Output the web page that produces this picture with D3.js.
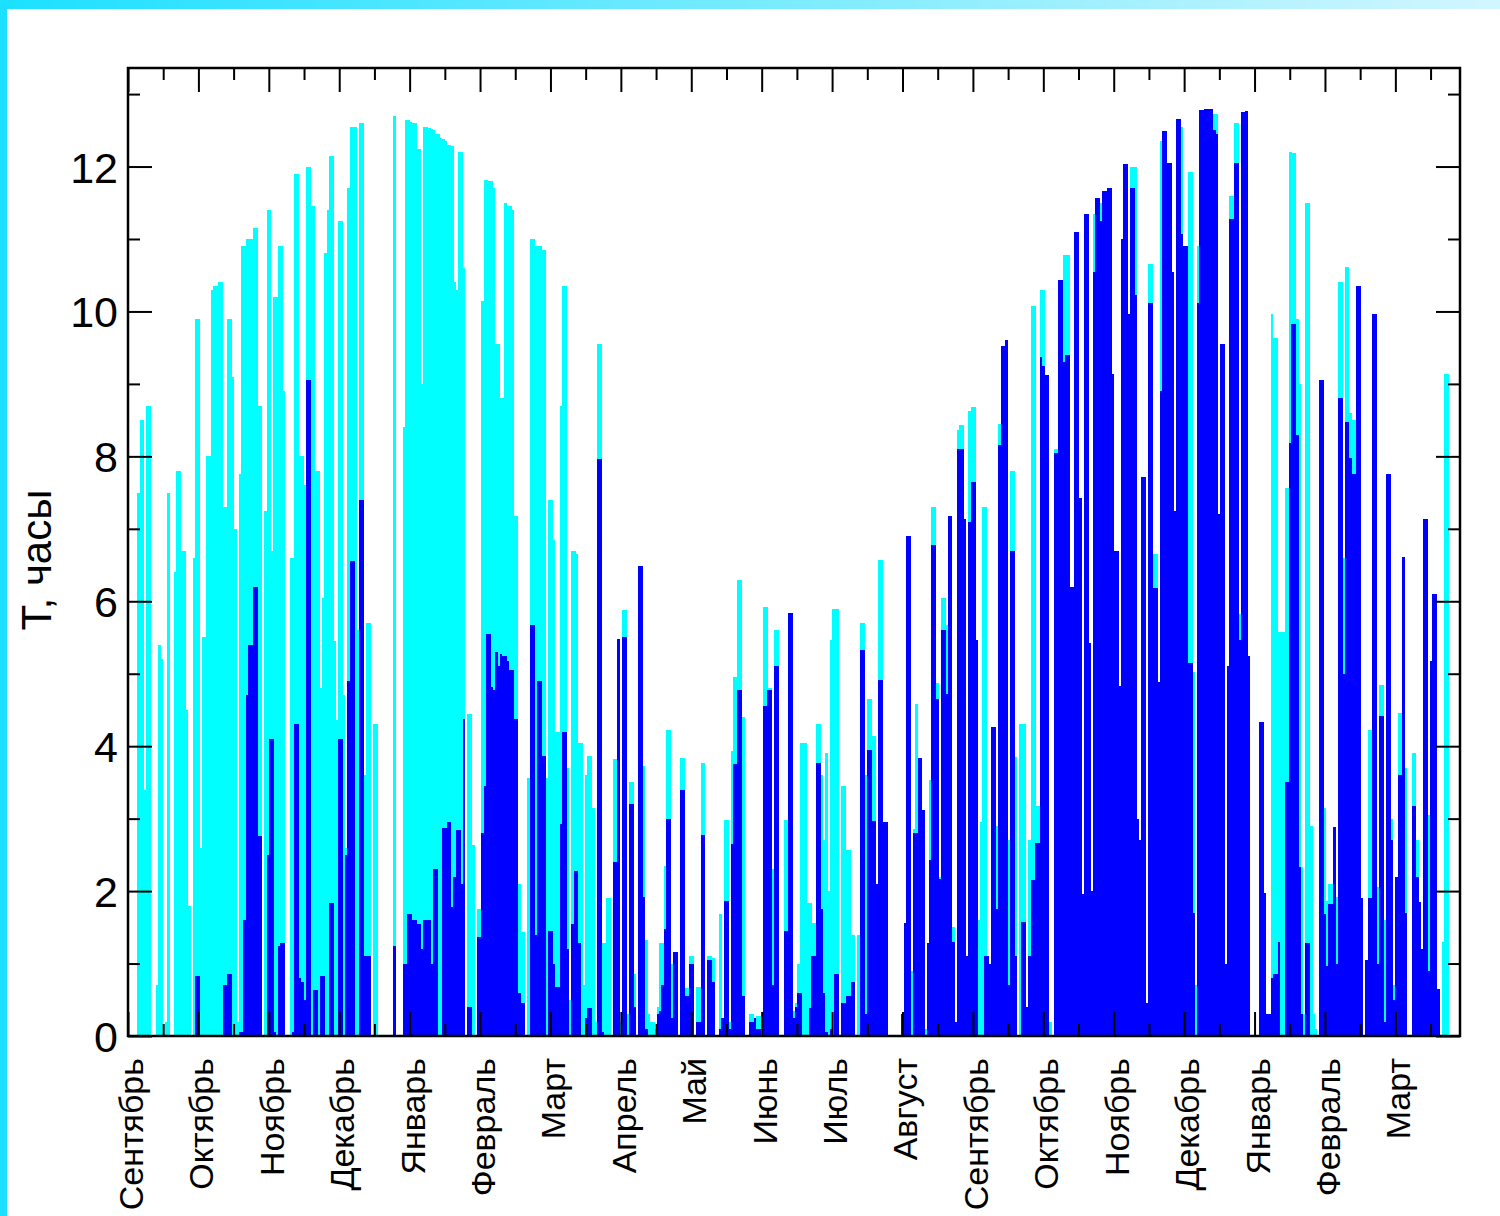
<!DOCTYPE html>
<html>
<head>
<meta charset="utf-8">
<script src="https://cdn.jsdelivr.net/npm/d3@7"></script>
<style>
  body { margin: 0; background: #fff; }
  text { font-family: "Liberation Sans", Arial, Helvetica, sans-serif; fill: #000; }
</style>
</head>
<body>
<div id="chart"></div>
<script>
// month labels, one per major tick (tick every 30.5 days)
const months = ["Сентябрь", "Октябрь", "Ноябрь", "Декабрь", "Январь", "Февраль", "Март",
  "Апрель", "Май", "Июнь", "Июль", "Август", "Сентябрь", "Октябрь", "Ноябрь", "Декабрь",
  "Январь", "Февраль", "Март"];

const yTicks = [0, 2, 4, 6, 8, 10, 12];

// daily duration, hours (cyan bars, drawn first)
const possibleHours = [
  0, 0, 0, 0, 7.5, 8.5, 8.5, 3.4, 8.7, 8.7,
  0, 0, 0.7, 5.4, 5.2, 0, 0.2, 7.5, 0, 0,
  6.4, 7.8, 7.8, 6.7, 6.7, 4.5, 1.8, 0, 6.6, 9.9,
  9.9, 2.6, 5.5, 5.5, 8.0, 8.0, 10.3, 10.35, 10.35, 10.4,
  10.4, 7.3, 7.3, 9.9, 9.9, 9.1, 7.0, 0.2, 7.75, 10.9,
  10.9, 11.0, 11.0, 11.0, 11.15, 11.15, 8.7, 8.7, 0, 7.24,
  11.4, 11.4, 6.7, 10.2, 10.2, 10.9, 10.9, 8.9, 0, 0,
  6.6, 6.6, 11.9, 11.9, 8.0, 8.0, 7.6, 12.0, 12.0, 11.45,
  11.45, 7.8, 7.8, 4.8, 6.05, 10.8, 11.4, 12.15, 12.15, 5.45,
  4.36, 11.25, 11.25, 4.7, 2.6, 11.7, 12.55, 12.55, 12.55, 5.6,
  12.6, 12.6, 3.6, 5.7, 5.7, 0, 4.3, 4.3, 0, 0,
  0, 0, 0, 0, 0, 12.7, 0, 0, 0, 8.4,
  12.64, 12.64, 12.62, 12.6, 12.6, 12.24, 12.24, 9.0, 12.55, 12.55,
  12.53, 12.52, 12.5, 12.45, 12.45, 12.4, 12.38, 12.35, 12.3, 12.3,
  12.28, 10.4, 10.3, 12.2, 12.2, 10.6, 0, 4.45, 4.45, 2.64,
  0, 1.75, 1.75, 10.15, 11.82, 11.82, 11.8, 11.8, 11.7, 9.55,
  9.55, 8.8, 8.8, 11.5, 11.45, 11.45, 11.4, 7.17, 7.17, 2.1,
  1.43, 1.43, 0, 3.56, 11.0, 11.0, 10.9, 10.9, 10.9, 10.85,
  10.85, 3.56, 7.4, 7.4, 6.85, 4.2, 4.2, 8.7, 10.35, 10.35,
  3.7, 0.5, 6.7, 6.7, 6.65, 4.04, 4.04, 0.7, 3.6, 3.87,
  3.87, 3.15, 0.2, 9.55, 9.55, 1.28, 1.28, 1.9, 1.9, 0,
  3.82, 3.82, 5.48, 0.2, 5.88, 5.88, 0.3, 3.5, 3.5, 0.85,
  0, 6.48, 6.48, 3.73, 1.32, 0.3, 0.2, 0.2, 0.1, 0.4,
  1.28, 1.28, 2.35, 4.23, 4.23, 1.0, 1.16, 1.16, 0, 3.84,
  3.84, 0.66, 0.66, 1.1, 1.1, 0, 0.67, 0.67, 3.77, 3.77,
  0, 1.1, 1.1, 1.08, 0, 0, 1.68, 0.25, 2.98, 2.98,
  0.2, 3.93, 4.95, 4.95, 6.3, 6.3, 4.4, 0, 0, 0.3,
  0.3, 0.25, 0.27, 0.27, 0, 5.92, 5.92, 4.8, 4.8, 2.3,
  5.6, 5.6, 0, 0, 2.98, 2.98, 5.84, 5.84, 0.35, 0.45,
  1.0, 4.04, 4.04, 4.04, 1.84, 1.84, 1.56, 1.56, 4.3, 4.3,
  3.6, 2.7, 3.9, 2.0, 5.47, 5.9, 5.9, 5.9, 0, 3.45,
  3.45, 2.57, 2.57, 1.4, 1.4, 0, 1.4, 5.7, 5.7, 3.6,
  4.65, 4.65, 4.14, 4.14, 2.1, 6.57, 6.57, 2.95, 2.95, 0,
  0, 0, 0, 0, 0, 0.3, 1.56, 6.9, 6.9, 0.9,
  2.86, 4.58, 3.84, 3.84, 3.12, 0.1, 1.28, 3.54, 7.3, 7.3,
  4.87, 2.2, 6.05, 6.05, 5.67, 7.17, 7.17, 1.5, 0.2, 8.37,
  8.43, 8.43, 7.14, 1.1, 8.63, 8.68, 8.68, 5.47, 1.6, 2.95,
  7.3, 7.3, 1.1, 1.0, 4.27, 4.27, 2.9, 8.45, 9.52, 9.52,
  9.6, 2.7, 7.8, 7.8, 3.85, 0, 4.3, 4.3, 4.3, 0.4,
  2.7, 10.07, 10.07, 3.18, 3.18, 10.3, 10.3, 9.12, 9.12, 0.2,
  0, 8.1, 8.1, 10.43, 10.43, 10.78, 10.78, 10.78, 6.2, 6.2,
  11.1, 11.1, 7.42, 1.96, 11.35, 11.35, 5.43, 2.0, 11.35, 11.57,
  11.57, 11.5, 11.66, 11.66, 11.7, 11.7, 9.13, 6.7, 6.7, 4.83,
  11.0, 12.03, 12.03, 9.97, 12.0, 12.0, 12.0, 3.0, 2.7, 7.72,
  7.72, 0.45, 10.66, 10.66, 6.65, 6.65, 4.88, 12.35, 12.49, 12.49,
  12.05, 12.05, 10.55, 7.24, 12.65, 12.65, 12.55, 10.9, 10.9, 11.92,
  11.92, 5.03, 0.7, 10.9, 12.78, 12.78, 12.8, 12.8, 12.8, 12.8,
  12.72, 12.72, 7.2, 9.55, 9.55, 1.0, 5.1, 11.59, 11.59, 12.6,
  12.6, 5.82, 12.75, 12.75, 12.76, 5.25, 0, 0, 0, 0,
  4.34, 4.34, 1.97, 0.3, 0.3, 9.97, 9.63, 9.63, 5.58, 5.58,
  5.58, 7.57, 7.57, 12.2, 12.18, 12.18, 9.9, 9.0, 2.33, 0.3,
  11.49, 11.49, 2.9, 0.3, 0.1, 0, 9.06, 9.06, 3.15, 1.87,
  2.1, 2.1, 2.88, 1.92, 10.4, 10.4, 6.6, 10.62, 10.62, 8.6,
  8.5, 8.5, 10.35, 10.35, 1.9, 0, 1.05, 4.22, 4.22, 9.96,
  9.96, 2.05, 4.85, 4.85, 1.6, 7.75, 7.75, 3.0, 0.7, 2.2,
  4.46, 4.46, 6.61, 3.7, 0, 0, 3.9, 3.9, 2.7, 1.85,
  1.2, 7.14, 7.14, 3.05, 5.18, 6.1, 6.1, 0.65, 0, 1.3,
  9.13, 9.13, 0, 0, 0, 0, 0
];

// daily duration, hours (blue bars, drawn on top)
const clearHours = [
  0, 0, 0, 0, 0, 0, 0, 0, 0, 0,
  0, 0, 0, 0, 0, 0, 0, 0, 0, 0,
  0, 0, 0, 0, 0, 0, 0, 0, 0, 0.83,
  0.83, 0, 0, 0, 0, 0, 0, 0, 0, 0,
  0, 0.7, 0.7, 0.85, 0.85, 0, 0, 0, 0.05, 0.05,
  1.6, 4.7, 5.4, 5.4, 6.2, 6.2, 2.76, 2.76, 0, 0,
  2.5, 4.1, 4.1, 0.05, 0, 1.24, 1.28, 1.28, 0, 0,
  0, 0.05, 4.3, 4.3, 0.8, 0.75, 0.5, 9.05, 9.05, 0,
  0.63, 0.63, 0, 0.83, 0.83, 0, 0, 1.84, 1.84, 0,
  0, 4.1, 4.1, 0, 2.5, 4.9, 6.55, 6.55, 0, 0,
  7.4, 7.4, 1.1, 1.1, 1.1, 0, 0, 0, 0, 0,
  0, 0, 0, 0, 0, 1.24, 0, 0, 0, 1.0,
  1.0, 1.68, 1.68, 1.6, 1.6, 1.55, 1.55, 1.2, 1.6, 1.6,
  1.6, 1.0, 2.3, 2.3, 0, 0, 2.87, 2.87, 2.95, 2.95,
  1.78, 2.2, 2.85, 2.85, 2.1, 4.38, 0, 0.4, 0.4, 0,
  0, 1.37, 1.37, 2.8, 3.45, 5.55, 5.55, 4.82, 4.78, 5.3,
  5.1, 5.27, 5.25, 5.25, 5.17, 5.05, 5.05, 4.38, 4.38, 0.6,
  0.45, 0.45, 0, 0, 5.67, 5.67, 1.4, 4.9, 4.9, 3.87,
  3.87, 0, 1.45, 1.45, 1.0, 0.68, 0.68, 2.93, 4.2, 4.2,
  1.2, 0, 1.55, 2.28, 2.28, 1.28, 0, 0, 0.25, 0.38,
  0.38, 0, 0, 7.96, 7.96, 0.05, 0, 0, 0, 0,
  2.4, 2.4, 5.48, 0, 5.51, 5.51, 0, 3.2, 3.2, 0.4,
  0, 6.48, 6.48, 1.92, 0.1, 0, 0, 0, 0, 0.3,
  0.35, 0.7, 1.48, 3.0, 3.0, 0.25, 1.16, 1.16, 0, 3.4,
  3.4, 0.55, 0.55, 1.0, 1.0, 0, 0.2, 0.2, 2.78, 2.78,
  0, 1.05, 1.05, 0.75, 0, 0, 0.1, 0.25, 1.87, 1.87,
  0.1, 2.65, 3.75, 3.75, 4.77, 4.77, 0.55, 0, 0, 0.2,
  0.2, 0.25, 0.1, 0.1, 0, 4.56, 4.56, 4.78, 4.78, 0.7,
  5.1, 5.1, 0, 0, 1.45, 1.45, 5.84, 5.84, 0.25, 0.4,
  0.6, 0.6, 0, 0, 0, 0.38, 1.1, 1.1, 3.77, 3.77,
  1.75, 0.6, 0.05, 0, 0.1, 0, 0.85, 0.85, 0, 0.45,
  0.45, 0.55, 0.55, 0.75, 0.75, 0, 0, 5.33, 5.33, 0.3,
  3.95, 3.95, 2.97, 2.97, 2.1, 4.92, 4.92, 2.95, 2.95, 0,
  0, 0, 0, 0, 0, 0.3, 1.56, 6.9, 6.9, 0,
  2.8, 2.8, 3.84, 3.84, 3.12, 0, 1.28, 2.43, 6.78, 6.78,
  4.65, 2.17, 5.6, 5.6, 4.72, 7.17, 7.17, 1.3, 0.2, 8.1,
  8.1, 8.1, 7.14, 1.1, 7.1, 7.65, 7.65, 5.47, 0, 0,
  0, 1.1, 1.1, 1.0, 4.27, 4.27, 1.75, 8.15, 9.52, 9.52,
  9.6, 0.7, 6.7, 6.7, 1.1, 0, 0, 1.57, 1.57, 0.4,
  1.1, 2.15, 2.15, 2.66, 2.66, 9.37, 9.25, 9.12, 9.12, 0,
  0, 8.05, 8.05, 10.43, 10.43, 9.3, 9.4, 9.4, 6.2, 6.2,
  11.1, 11.1, 7.42, 1.96, 11.35, 11.35, 5.43, 2.0, 10.54, 11.57,
  11.57, 11.25, 11.66, 11.66, 11.7, 11.7, 9.13, 6.7, 6.7, 4.83,
  11.0, 12.03, 12.03, 9.97, 11.7, 11.7, 10.23, 3.0, 2.7, 7.72,
  7.72, 0.45, 10.12, 10.12, 6.18, 6.18, 4.88, 8.9, 12.49, 12.49,
  12.05, 12.05, 10.55, 7.24, 12.65, 12.65, 11.07, 10.9, 10.9, 5.15,
  5.15, 1.7, 0, 10.12, 12.78, 12.78, 12.8, 12.8, 12.8, 12.8,
  12.5, 12.45, 7.2, 9.55, 9.55, 1.0, 5.1, 11.27, 11.27, 12.05,
  12.05, 5.47, 12.75, 12.75, 12.76, 5.25, 0, 0, 0, 0,
  4.34, 4.34, 1.97, 0.3, 0.3, 0.8, 0.85, 0.85, 1.3, 0,
  0, 3.5, 3.5, 8.18, 9.82, 9.82, 8.3, 2.33, 0.3, 0,
  1.28, 1.28, 0, 0, 0, 0, 9.06, 9.06, 1.68, 0.97,
  1.82, 1.82, 2.88, 1.0, 8.8, 8.8, 5.0, 8.47, 8.47, 7.98,
  7.75, 7.75, 10.35, 10.35, 1.9, 0, 1.05, 1.9, 1.9, 9.96,
  9.96, 1.0, 4.42, 4.42, 0.2, 7.75, 7.75, 2.7, 0.5, 2.2,
  3.6, 3.6, 6.61, 1.7, 0, 0, 3.17, 3.17, 2.2, 1.85,
  1.2, 7.14, 7.14, 0.9, 5.18, 6.1, 6.1, 0.65, 0, 0,
  0, 0, 0, 0, 0, 0, 0
];

const daysPerMonth = 30.5;

const margin = { top: 68, right: 40, bottom: 180, left: 128 };
const width = 1500 - margin.left - margin.right;
const height = 1216 - margin.top - margin.bottom;

const root = d3.select("#chart")
  .append("svg")
  .attr("width", 1500)
  .attr("height", 1216);

// page decoration: cyan band on top and on the left
let grad = root.append("defs").append("linearGradient")
  .attr("id", "band")
  .attr("x1", "0%").attr("x2", "100%");
grad.append("stop").attr("offset", "0%").attr("stop-color", "#1ce0ff");
grad.append("stop").attr("offset", "100%").attr("stop-color", "#d2f6ff");

root.append("rect").attr("x", 0).attr("y", 0).attr("width", 1500).attr("height", 9)
  .attr("fill", "url(#band)");
root.append("rect").attr("x", 0).attr("y", 0).attr("width", 7).attr("height", 1216)
  .attr("fill", "#1ce0ff");

let svg = root.append("g")
  .attr("transform", "translate(" + margin.left + "," + margin.top + ")");

let x = d3.scaleLinear()
  .domain([0, possibleHours.length])
  .range([0, width]);

let y = d3.scaleLinear()
  .domain([0, 13.36])
  .range([height, 0]);

const drawBars = (values, color) => {
  svg.append("g")
    .selectAll("rect")
    .data(values)
    .enter()
    .append("rect")
    .attr("x", (d, i) => x(i))
    .attr("width", (d, i) => x(i + 1) - x(i) + 0.3)
    .attr("y", d => y(d))
    .attr("height", d => height - y(d))
    .attr("fill", color)
    .attr("shape-rendering", "crispEdges");
};

drawBars(possibleHours, "#00ffff");
drawBars(clearHours, "#0000ff");

// ticks on all four sides, pointing inward
const majorX = months.map((m, i) => i * daysPerMonth);
const minorX = months.map((m, i) => i * daysPerMonth + daysPerMonth / 2);
const minorY = [1, 3, 5, 7, 9, 11, 13];

const addAxis = (axis, translate) => {
  let g = svg.append("g")
    .attr("transform", translate)
    .call(axis);
  g.select(".domain").remove();
  g.selectAll("line").attr("stroke", "#000").attr("stroke-width", 2);
  return g;
};

addAxis(d3.axisBottom(x).tickValues(majorX).tickSize(-24).tickFormat(""), "translate(0," + height + ")");
addAxis(d3.axisBottom(x).tickValues(minorX).tickSize(-12).tickFormat(""), "translate(0," + height + ")");
addAxis(d3.axisTop(x).tickValues(majorX).tickSize(-24).tickFormat(""), "translate(0,0)");
addAxis(d3.axisTop(x).tickValues(minorX).tickSize(-12).tickFormat(""), "translate(0,0)");

let left = addAxis(d3.axisLeft(y).tickValues(yTicks).tickSize(-24).tickPadding(10), "translate(0,0)");
left.selectAll("text").style("font-size", "43px").attr("dy", "0.36em");
addAxis(d3.axisLeft(y).tickValues(minorY).tickSize(-12).tickFormat(""), "translate(0,0)");
addAxis(d3.axisRight(y).tickValues(yTicks).tickSize(-24).tickFormat(""), "translate(" + width + ",0)");
addAxis(d3.axisRight(y).tickValues(minorY).tickSize(-12).tickFormat(""), "translate(" + width + ",0)");

// frame
svg.append("rect")
  .attr("width", width)
  .attr("height", height)
  .attr("fill", "none")
  .attr("stroke", "#000")
  .attr("stroke-width", 2.5);

// month labels, rotated
svg.selectAll(".month")
  .data(months)
  .enter()
  .append("text")
  .attr("class", "month")
  .attr("transform", (d, i) => "translate(" + (x(i * daysPerMonth) + 15) + "," + (height + 22) + ") rotate(-90)")
  .attr("text-anchor", "end")
  .style("font-size", "34px")
  .text(d => d);

// y title
root.append("text")
  .attr("transform", "translate(51,560) rotate(-90)")
  .attr("text-anchor", "middle")
  .style("font-size", "42px")
  .text("T, часы");
</script>
</body>
</html>
